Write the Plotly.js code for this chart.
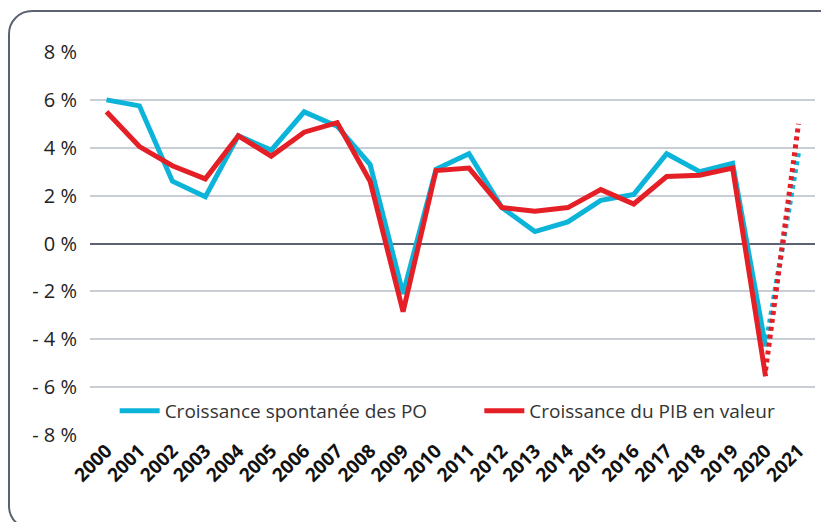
<!DOCTYPE html>
<html>
<head>
<meta charset="utf-8">
<script src="https://cdn.plot.ly/plotly-3.0.1.min.js"></script>
<style>
  html, body { margin: 0; padding: 0; width: 821px; height: 522px; overflow: hidden; background: #fff; }
  #frame { position: absolute; left: 8px; top: 10px; width: 840px; height: 520px; border: 2px solid #5b6372; border-radius: 24px; box-sizing: border-box; }
  #chart { position: absolute; left: 0; top: 0; width: 821px; height: 522px; }
</style>
</head>
<body>
<div id="frame"></div>
<div id="chart"></div>
<script>
const years = [2000, 2001, 2002, 2003, 2004, 2005, 2006, 2007, 2008, 2009, 2010,
               2011, 2012, 2013, 2014, 2015, 2016, 2017, 2018, 2019, 2020];
const poGrowth = [6.0, 5.75, 2.6, 1.95, 4.5, 3.9, 5.5, 4.9, 3.3, -2.1, 3.1,
                  3.75, 1.5, 0.5, 0.9, 1.8, 2.05, 3.75, 3.0, 3.35, -4.3];
const pibGrowth = [5.5, 4.05, 3.25, 2.7, 4.5, 3.65, 4.65, 5.05, 2.6, -2.85, 3.05,
                   3.15, 1.5, 1.35, 1.5, 2.25, 1.65, 2.8, 2.85, 3.15, -5.55];
const forecastYears = [2020, 2021];
const poForecast = [-4.3, 3.8];
const pibForecast = [-5.3, 5.0];
const seriesNames = ["Croissance spontanée des PO", "Croissance du PIB en valeur"];
const yTickVals = [-8, -6, -4, -2, 0, 2, 4, 6, 8];
const yTickText = ["- 8 %", "- 6 %", "- 4 %", "- 2 %", "0 %", "2 %", "4 %", "6 %", "8 %"];
const xTickVals = [2000, 2001, 2002, 2003, 2004, 2005, 2006, 2007, 2008, 2009, 2010,
                   2011, 2012, 2013, 2014, 2015, 2016, 2017, 2018, 2019, 2020, 2021];

const cyan = "#0db4d9";
const red = "#e41f26";

const traces = [
  { x: years, y: poGrowth, type: "scatter", mode: "lines", name: seriesNames[0],
    legend: "legend", line: { color: cyan, width: 5 } },
  { x: forecastYears, y: poForecast, type: "scatter", mode: "lines", showlegend: false,
    line: { color: cyan, width: 5, dash: "4px,4px" } },
  { x: years, y: pibGrowth, type: "scatter", mode: "lines", name: seriesNames[1],
    legend: "legend2", line: { color: red, width: 5 } },
  { x: forecastYears, y: pibForecast, type: "scatter", mode: "lines", showlegend: false,
    line: { color: red, width: 5, dash: "4px,4px" } }
];

const legendCommon = {
  orientation: "h", y: 0.063, xanchor: "left", yanchor: "middle",
  bgcolor: "rgba(0,0,0,0)", font: { size: 19, color: "#333" }, itemwidth: 40
};

const layout = {
  width: 821, height: 522,
  margin: { l: 90, r: 6, t: 52, b: 87 },
  paper_bgcolor: "rgba(0,0,0,0)",
  plot_bgcolor: "rgba(0,0,0,0)",
  font: { family: "Open Sans, sans-serif", color: "#222" },
  showlegend: true,
  legend: Object.assign({ x: 0.034 }, legendCommon),
  legend2: Object.assign({ x: 0.537 }, legendCommon),
  xaxis: {
    range: [1999.5, 2021.5], tickvals: xTickVals, ticktext: xTickVals.map(String),
    tickangle: -45, tickfont: { size: 19, color: "#111", weight: 700 },
    showgrid: false, zeroline: false, showline: false, ticks: "", fixedrange: true
  },
  yaxis: {
    range: [-8, 8], tickvals: yTickVals, ticktext: yTickText,
    tickfont: { size: 20, color: "#222" }, ticks: "", ticklabelstandoff: 12,
    showgrid: true, gridcolor: "#c9cdd6", gridwidth: 2,
    zeroline: true, zerolinecolor: "#5b6372", zerolinewidth: 2, showline: false,
    fixedrange: true
  }
};

Plotly.newPlot("chart", traces, layout, { displayModeBar: false, staticPlot: true });
</script>
</body>
</html>
